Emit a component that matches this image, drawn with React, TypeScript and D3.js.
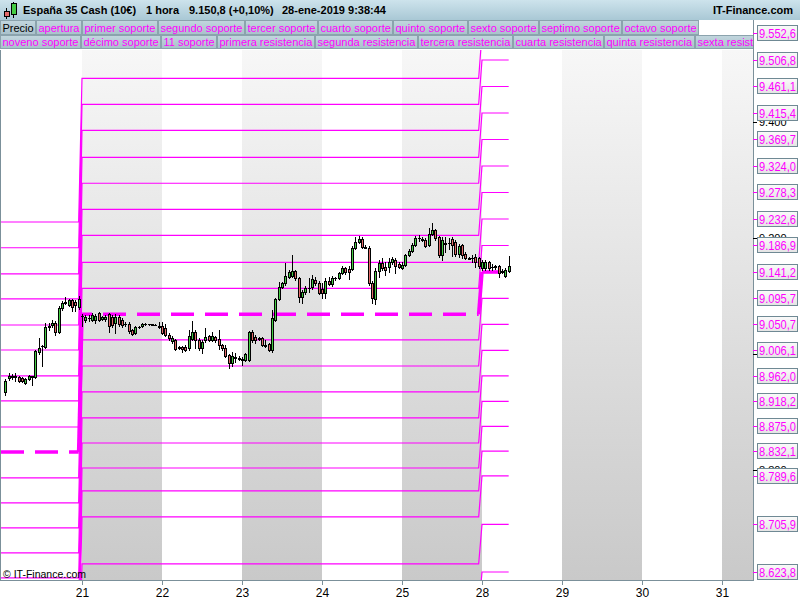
import React, { useMemo } from "react";
import * as d3 from "d3";

const W = 800;
const H = 600;
const PL = 1, PR = 753, PT = 50, PB = 580;
const FONT = "'Liberation Sans', Arial, sans-serif";
const MAGENTA = "#ff00ff";
const FRAME = "#7b909a";

// day slots (0 = Friday 18, 1 = Monday 21, ...)
const dayLabels = ["21", "22", "23", "24", "25", "28", "29", "30", "31"];
const daySlots = [1, 2, 3, 4, 5, 6, 7, 8, 9];
const shadedSlots = [1, 3, 5, 7, 9];
const BARS_PER_DAY = 24;

type Bar = [number, number, number, number]; // open, high, low, close

// Friday 18 (from hour 1)
const day18: Bar[] = [
  [8934, 8956, 8929, 8953], [8958, 8967, 8955, 8962], [8960, 8965, 8957, 8962], [8960, 8967, 8953, 8961],
  [8960, 8962, 8952, 8954], [8958, 8960, 8952, 8953], [8950, 8958, 8948, 8957], [8957, 8964, 8955, 8962],
  [8960, 8962, 8946, 8961], [8960, 9007, 8958, 9005], [9003, 9027, 9000, 9010], [9014, 9015, 8979, 9013],
  [9012, 9053, 9010, 9046], [9046, 9053, 9041, 9048], [9050, 9058, 9046, 9053], [9053, 9057, 9033, 9038],
  [9038, 9083, 9036, 9079], [9079, 9091, 9076, 9088], [9088, 9098, 9086, 9090], [9084, 9095, 9083, 9093],
  [9093, 9095, 9074, 9081], [9090, 9093, 9074, 9084], [9081, 9100, 9077, 9095],
];
const day21: Bar[] = [
  [9066, 9069, 9048, 9065], [9058, 9067, 9055, 9064], [9062, 9067, 9057, 9061], [9058, 9071, 9057, 9067],
  [9058, 9069, 9053, 9065], [9071, 9072, 9057, 9058], [9060, 9065, 9058, 9064], [9060, 9067, 9057, 9064],
  [9069, 9071, 9038, 9048], [9064, 9067, 9046, 9050], [9053, 9069, 9036, 9064], [9064, 9067, 9048, 9052],
  [9058, 9062, 9046, 9050], [9052, 9055, 9048, 9051], [9052, 9055, 9036, 9040], [9041, 9043, 9033, 9034],
  [9036, 9048, 9034, 9046], [9046, 9048, 9045, 9047], [9048, 9053, 9047, 9052], [9052, 9053, 9050, 9051],
  [9051, 9052, 9050, 9051], [9051, 9052, 9050, 9050], [9050, 9051, 9049, 9049], [9048, 9055, 9045, 9046],
];
const day22: Bar[] = [
  [9048, 9055, 9034, 9036], [9045, 9052, 9031, 9033], [9033, 9036, 9024, 9027], [9022, 9031, 9019, 9027],
  [9024, 9026, 9007, 9008], [9012, 9014, 9008, 9010], [9012, 9014, 9003, 9008], [9012, 9015, 9005, 9007],
  [9010, 9041, 9007, 9031], [9026, 9057, 9024, 9038], [9038, 9041, 9010, 9024], [9024, 9027, 9007, 9010],
  [9010, 9024, 9002, 9021], [9024, 9045, 9021, 9029], [9031, 9033, 9022, 9024], [9024, 9038, 9022, 9031],
  [9029, 9031, 9021, 9024], [9026, 9041, 9008, 9015], [9015, 9017, 9007, 9010], [9010, 9015, 8995, 8996],
  [8998, 9000, 8976, 8984], [8984, 9003, 8979, 8996], [8993, 9002, 8986, 8995], [8993, 8996, 8990, 8992],
];
const day23: Bar[] = [
  [8991, 8995, 8981, 8990], [8990, 9002, 8988, 9000], [8990, 9040, 8988, 9038], [9038, 9041, 9021, 9024],
  [9029, 9033, 9019, 9024], [9027, 9029, 9024, 9026], [9027, 9029, 9014, 9015], [9015, 9024, 9012, 9014],
  [9017, 9019, 9005, 9007], [9007, 9076, 9003, 9062], [9058, 9096, 9057, 9095], [9095, 9124, 9093, 9115],
  [9115, 9124, 9114, 9122], [9122, 9157, 9119, 9134], [9133, 9145, 9131, 9141], [9134, 9171, 9133, 9143],
  [9143, 9145, 9128, 9131], [9131, 9133, 9090, 9098], [9098, 9110, 9088, 9107], [9107, 9117, 9103, 9114],
  [9114, 9131, 9107, 9113], [9115, 9136, 9112, 9129], [9128, 9133, 9119, 9122], [9122, 9126, 9103, 9105],
];
const day24: Bar[] = [
  [9112, 9122, 9096, 9105], [9105, 9131, 9096, 9126], [9126, 9133, 9119, 9121], [9121, 9134, 9117, 9131],
  [9131, 9133, 9128, 9130], [9131, 9141, 9129, 9140], [9140, 9152, 9138, 9148], [9148, 9150, 9138, 9141],
  [9146, 9152, 9129, 9141], [9146, 9186, 9145, 9183], [9183, 9201, 9181, 9193], [9193, 9203, 9191, 9198],
  [9198, 9201, 9183, 9184], [9184, 9188, 9182, 9183], [9183, 9186, 9119, 9122], [9122, 9126, 9088, 9096],
  [9095, 9148, 9086, 9143], [9143, 9162, 9133, 9157], [9157, 9165, 9145, 9148], [9150, 9159, 9136, 9145],
  [9150, 9165, 9141, 9159], [9159, 9167, 9155, 9164], [9162, 9165, 9140, 9152], [9155, 9159, 9148, 9150],
];
const day25: Bar[] = [
  [9148, 9159, 9146, 9153], [9153, 9172, 9152, 9171], [9171, 9181, 9169, 9178], [9178, 9191, 9176, 9188],
  [9188, 9203, 9186, 9200], [9200, 9205, 9195, 9199], [9198, 9201, 9195, 9197], [9196, 9200, 9184, 9186],
  [9188, 9217, 9186, 9207], [9207, 9226, 9205, 9214], [9214, 9215, 9196, 9200], [9202, 9203, 9167, 9171],
  [9171, 9202, 9162, 9196], [9191, 9202, 9176, 9190], [9191, 9200, 9181, 9192], [9198, 9202, 9169, 9188],
  [9193, 9196, 9169, 9172], [9172, 9190, 9167, 9186], [9188, 9190, 9165, 9171], [9172, 9176, 9164, 9165],
  [9165, 9167, 9163, 9164], [9165, 9170, 9158, 9166], [9167, 9172, 9150, 9158], [9165, 9167, 9148, 9152],
];
const day28: Bar[] = [
  [9148, 9162, 9145, 9158], [9148, 9162, 9145, 9158], [9158, 9160, 9145, 9148], [9150, 9155, 9145, 9149],
  [9150, 9153, 9146, 9151], [9152, 9153, 9133, 9140], [9143, 9146, 9140, 9142], [9134, 9148, 9133, 9145],
  [9143, 9169, 9141, 9151],
];

const candleDays: { slot: number; startHour: number; bars: Bar[] }[] = [
  { slot: 0, startHour: 1, bars: day18 },
  { slot: 1, startHour: 0, bars: day21 },
  { slot: 2, startHour: 0, bars: day22 },
  { slot: 3, startHour: 0, bars: day23 },
  { slot: 4, startHour: 0, bars: day24 },
  { slot: 5, startHour: 0, bars: day25 },
  { slot: 6, startHour: 0, bars: day28 },
];

// weekly pivot levels: 9 resistances (top first), apertura, 11 supports
const week18Levels = [9227.4, 9183.0, 9137.8, 9094.7, 9049.8, 9006.7, 8961.9, 8918.8, 8873.9, 8830.8,
  8786.0, 8742.9, 8699.8, 8656.7, 8613.6, 8570.5, 8527.4, 8484.3, 8441.2, 8398.1, 8355.0];
const week21Levels = [9475.2, 9430.4, 9385.6, 9339.0, 9294.2, 9249.3, 9204.5, 9157.9, 9113.1, 9068.3,
  9024.0, 8979.1, 8934.3, 8889.5, 8846.3, 8803.2, 8763.6, 8718.7, 8637.7, 8556.5, 8475.0];
const week28Levels = [9552.6, 9506.8, 9461.1, 9415.4, 9369.7, 9324.0, 9278.3, 9232.6, 9186.9, 9141.2,
  9095.7, 9050.7, 9006.1, 8962.0, 8918.2, 8875.0, 8832.1, 8789.6, 8705.9, 8623.8, 8541.7];
const APERTURA = 9;
// bar indices where each week starts/ends
const weekSpans = [
  { from: -3, to: 23, levels: week18Levels },
  { from: 24, to: 143, levels: week21Levels },
  { from: 144, to: 152, levels: week28Levels },
];

const priceTicks = [9400, 9200, 9000, 8800];

const legendRow1 = ["Precio", "apertura", "primer soporte", "segundo soporte", "tercer soporte", "cuarto soporte",
  "quinto soporte", "sexto soporte", "septimo soporte", "octavo soporte"];
const legendRow2 = ["noveno soporte", "décimo soporte", "11 soporte", "primera resistencia", "segunda resistencia",
  "tercera resistencia", "cuarta resistencia", "quinta resistencia", "sexta resistencia", "septima resistencia"];

const esLocale = d3.formatLocale({ decimal: ",", thousands: ".", grouping: [3], currency: ["", "€"] });
const fmt1 = esLocale.format(",.1f");
const fmt0 = esLocale.format(",.0f");

let _ctx: CanvasRenderingContext2D | null = null;
function measure(text: string, font: string) {
  if (!_ctx) _ctx = document.createElement("canvas").getContext("2d");
  if (!_ctx) return text.length * 6;
  _ctx.font = font;
  return _ctx.measureText(text).width;
}

export default function App() {
  const x = useMemo(() => d3.scaleLinear().domain([0, BARS_PER_DAY * 9]).range([2, 722]), []);
  const y = useMemo(() => d3.scaleLinear().domain([8623.8, 9506.8]).range([572, 60]), []);

  const candles = useMemo(() => {
    const out: { i: number; b: Bar }[] = [];
    candleDays.forEach((d) => d.bars.forEach((b, k) => out.push({ i: d.slot * BARS_PER_DAY + d.startHour + k, b })));
    return out;
  }, []);

  const lineGen = d3.line<[number, number]>().x((d) => x(d[0])).y((d) => y(d[1]));

  const levelPaths = week18Levels.map((_, li) => {
    const pts: [number, number][] = [];
    weekSpans.forEach((w) => {
      pts.push([w.from, w.levels[li]]);
      pts.push([w.to, w.levels[li]]);
    });
    return { li, d: lineGen(pts) || "" };
  });

  const legendCells = (row: string[]) => {
    let cx = 0;
    return row.map((t) => {
      const w = Math.round(measure(t, "11px 'Liberation Sans'") + 4);
      const cell = { t, x: cx, w };
      cx += w + 1;
      return cell;
    });
  };
  const row1 = legendCells(legendRow1);
  const row2 = legendCells(legendRow2);

  const labelLevels = week28Levels.filter((v) => y(v) > 25 && y(v) < PB);

  return (
    <div style={{ position: "absolute", left: 0, top: 0, width: W, height: H }}>
      <svg width={W} height={H} style={{ display: "block", fontFamily: FONT }}>
        <defs>
          <linearGradient id="band" x1="0" y1="0" x2="0" y2="1">
            <stop offset="0" stopColor="#f7f7f7" />
            <stop offset="1" stopColor="#c9c9c9" />
          </linearGradient>
          <linearGradient id="hdr" x1="0" y1="0" x2="0" y2="1">
            <stop offset="0" stopColor="#cde3ec" />
            <stop offset="1" stopColor="#a9c8d5" />
          </linearGradient>
          <linearGradient id="cell" x1="0" y1="0" x2="0" y2="1">
            <stop offset="0" stopColor="#c2d6de" />
            <stop offset="1" stopColor="#a9c1cb" />
          </linearGradient>
          <linearGradient id="lbl" x1="0" y1="0" x2="0" y2="1">
            <stop offset="0" stopColor="#fafafa" />
            <stop offset="1" stopColor="#e4e4e4" />
          </linearGradient>
          <clipPath id="plot">
            <rect x={PL} y={PT} width={PR - PL} height={PB - PT} />
          </clipPath>
          <clipPath id="legclip">
            <rect x={0} y={20} width={PR} height={30} />
          </clipPath>
        </defs>

        <rect x={0} y={0} width={W} height={H} fill="#ffffff" />

        {/* header row */}
        <rect x={0} y={0} width={W} height={20} fill="url(#hdr)" />
        <g>
          <line x1={6.5} x2={6.5} y1={8} y2={19} stroke="#000" />
          <rect x={4.5} y={11.5} width={5} height={5} fill="#e46a6a" stroke="#000" />
          <line x1={13.5} x2={13.5} y1={2} y2={18} stroke="#000" />
          <rect x={11.5} y={3.5} width={5} height={11} fill="#44cc44" stroke="#000" />
        </g>
        <g fontSize={11} fontWeight="bold" fill="#000">
          <text x={23} y={14}>España 35 Cash (10€)</text>
          <text x={146} y={14}>1 hora</text>
          <text x={189} y={14}>9.150,8 (+0,10%)</text>
          <text x={282} y={14}>28-ene-2019 9:38:44</text>
          <text x={793} y={14} textAnchor="end">IT-Finance.com</text>
        </g>

        {/* legend rows */}
        <g clipPath="url(#legclip)" fontSize={11}>
          {row1.map((c) => (
            <g key={"r1" + c.t}>
              <rect x={c.x + 0.5} y={20.5} width={c.w} height={14} fill="url(#cell)" stroke="#8ba3ad" />
              <text x={c.x + 2.5} y={31.5} fill={c.t === "Precio" ? "#000" : MAGENTA}>{c.t}</text>
            </g>
          ))}
          {row2.map((c) => (
            <g key={"r2" + c.t}>
              <rect x={c.x + 0.5} y={35.5} width={c.w} height={13} fill="url(#cell)" stroke="#8ba3ad" />
              <text x={c.x + 2.5} y={46} fill={MAGENTA}>{c.t}</text>
            </g>
          ))}
        </g>

        {/* plot */}
        <g clipPath="url(#plot)">
          {shadedSlots.map((s) => (
            <rect key={"b" + s} x={x(s * BARS_PER_DAY)} y={PT} width={x((s + 1) * BARS_PER_DAY) - x(s * BARS_PER_DAY)}
              height={PB - PT} fill="url(#band)" />
          ))}
          {levelPaths.filter((p) => p.li !== APERTURA).map((p) => (
            <path key={"lv" + p.li} d={p.d} fill="none" stroke={MAGENTA} strokeWidth={1.2} />
          ))}
          {/* apertura */}
          {weekSpans.map((w, k) => {
            const x0 = x(w.from);
            const x1 = x(w.to);
            const yy = y(w.levels[APERTURA]);
            const off = (((x0 - 1) % 34) + 34) % 34;
            return (
              <line key={"ap" + k} x1={x0} x2={x1} y1={yy} y2={yy} stroke={MAGENTA} strokeWidth={3.6}
                strokeDasharray="23 11" strokeDashoffset={off} />
            );
          })}
          {weekSpans.slice(1).map((w, k) => {
            const prev = weekSpans[k];
            return (
              <line key={"aps" + k} x1={x(prev.to)} x2={x(w.from)} y1={y(prev.levels[APERTURA])} y2={y(w.levels[APERTURA])}
                stroke={MAGENTA} strokeWidth={3.6} />
            );
          })}
          {/* candles */}
          {candles.map(({ i, b }) => {
            const [o, hi, lo, c] = b;
            const cx = Math.round(x(i));
            const a = cx - 1;
            const top = Math.round(y(Math.max(o, c)));
            const bot = Math.round(y(Math.min(o, c)));
            const up = c >= o;
            return (
              <g key={"c" + i}>
                <line x1={a + 1.5} x2={a + 1.5} y1={Math.round(y(hi))} y2={Math.round(y(lo)) + 1} stroke="#000" />
                {bot - top >= 1 ? (
                  <rect x={a + 0.5} y={top + 0.5} width={2} height={bot - top} fill={up ? "#44cc44" : "#e46a6a"} stroke="#000" />
                ) : (
                  <line x1={a} x2={a + 3} y1={top + 0.5} y2={top + 0.5} stroke="#000" />
                )}
              </g>
            );
          })}
          <text x={3} y={578} fontSize={11} textLength={83} lengthAdjust="spacingAndGlyphs" fill="#000">© IT-Finance.com</text>
        </g>

        {/* frame */}
        <line x1={0.5} x2={0.5} y1={PT} y2={PB} stroke={FRAME} />
        <line x1={0} x2={PR} y1={PB + 0.5} y2={PB + 0.5} stroke={FRAME} />
        <line x1={PR + 0.5} x2={PR + 0.5} y1={20} y2={PB + 1} stroke={FRAME} />

        {/* right axis: black ticks */}
        {priceTicks.map((t) => (
          <g key={"pt" + t}>
            <line x1={PR} x2={PR + 4} y1={Math.round(y(t)) + 0.5} y2={Math.round(y(t)) + 0.5} stroke="#000" />
            <text x={759} y={y(t) + 4} fontSize={11} fill="#000">{fmt0(t)}</text>
          </g>
        ))}
        {/* level labels */}
        {labelLevels.map((v) => {
          const yy = Math.round(y(v));
          return (
            <g key={"lb" + v}>
              <line x1={PR} x2={758} y1={yy + 0.5} y2={yy + 0.5} stroke={MAGENTA} />
              <rect x={757.5} y={yy - 7.5} width={40} height={15} fill="url(#lbl)" stroke="#6f8994" />
              <text x={759} y={yy + 5} fontSize={13} fill={MAGENTA} textLength={37} lengthAdjust="spacingAndGlyphs">{fmt1(v)}</text>
            </g>
          );
        })}

        {/* bottom axis */}
        {daySlots.map((s, k) => {
          const xx = Math.round(x(s * BARS_PER_DAY)) + 0.5;
          return (
            <g key={"d" + s}>
              <line x1={xx} x2={xx} y1={PB} y2={PB + 5} stroke={FRAME} />
              <text x={xx} y={597} fontSize={12} textAnchor="middle" fill="#000">{dayLabels[k]}</text>
            </g>
          );
        })}
      </svg>
    </div>
  );
}
